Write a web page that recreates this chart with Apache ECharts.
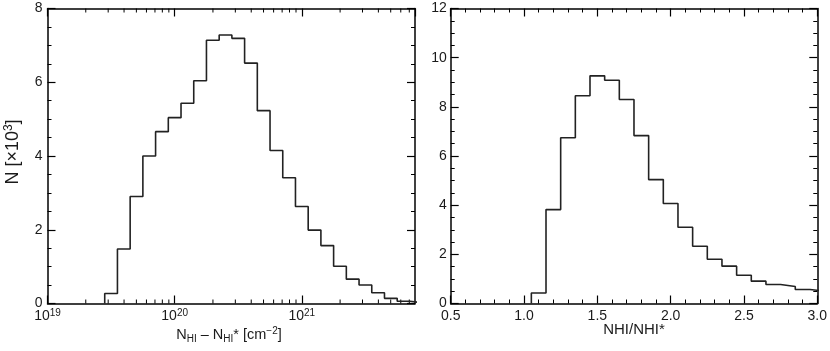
<!DOCTYPE html>
<html>
<head>
<meta charset="utf-8">
<script src="https://cdn.jsdelivr.net/npm/echarts@6/dist/echarts.min.js"></script>
<style>
html,body{margin:0;padding:0;background:#fff;}
#chart{width:830px;height:351px;}
</style>
</head>
<body>
<div id="chart"></div>
<script>
// ---- Left panel: histogram of N_HI - N_HI* (log10 bin edges, counts in 10^3) ----
const leftEdgesLog10 = [19.45,19.55,19.65,19.75,19.85,19.95,20.05,20.15,20.25,20.35,20.45,20.55,20.65,20.75,20.85,20.95,21.05,21.15,21.25,21.35,21.45,21.55,21.65,21.75,21.85,21.95];
const leftCounts = [0.27,1.48,2.90,4.00,4.66,5.04,5.43,6.04,7.14,7.28,7.19,6.52,5.23,4.15,3.41,2.63,1.99,1.57,1.01,0.66,0.50,0.29,0.14,0.06,0.02];
const leftXMinLog10 = 19;
const leftXMaxLog10 = 21.89;
const leftYTicks = [0,2,4,6,8];

// ---- Right panel: histogram of NHI/NHI* ----
const rightEdges = [1.05,1.15,1.25,1.35,1.45,1.55,1.65,1.75,1.85,1.95,2.05,2.15,2.25,2.35,2.45,2.55,2.65,2.75,2.85,2.95,3.05];
const rightCounts = [0.43,3.82,6.74,8.45,9.26,9.08,8.30,6.83,5.04,4.07,3.10,2.33,1.80,1.52,1.15,0.91,0.77,0.69,0.57,0.50];
const rightXTicks = [0.5,1.0,1.5,2.0,2.5,3.0];
const rightYTicks = [0,2,4,6,8,10,12];

const FONT = '"Liberation Sans", Arial, Helvetica, sans-serif';
const INK = '#000';
const TXT = '#1a1a1a';

function stepPoints(edges, counts, xf) {
  const pts = [[xf(edges[0]), 0]];
  for (let i = 0; i < counts.length; i++) {
    pts.push([xf(edges[i]), counts[i]]);
    pts.push([xf(edges[i + 1]), counts[i]]);
  }
  return pts;
}
const pow10 = e => Math.pow(10, e);

// minor tick positions for the log axis (2..9 x each decade)
const leftMinorTicks = [];
for (let d = leftXMinLog10; d < leftXMaxLog10; d++) {
  for (let m = 2; m <= 9; m++) {
    const v = m * Math.pow(10, d);
    if (Math.log10(v) <= leftXMaxLog10) leftMinorTicks.push(v);
  }
}

const chart = echarts.init(document.getElementById('chart'), null, {renderer: 'canvas'});

const axisLine = {show: true, onZero: false, lineStyle: {color: INK, width: 1.5}};
const majorTick = {show: true, inside: true, length: 8, lineStyle: {color: INK, width: 1.2}};
const minorTick = n => ({show: true, splitNumber: n, length: 4, lineStyle: {color: INK, width: 1}});
const LBL_SIZE = 14;
const lbl = {color: TXT, fontSize: LBL_SIZE, fontFamily: FONT};

const grids = [
  {left: 47.5, top: 8.5, width: 367.5, height: 295},
  {left: 450.7, top: 8.5, width: 368.6, height: 295}
];

const supRich = {
  b: {fontSize: LBL_SIZE, lineHeight: 16, fontFamily: FONT, color: TXT},
  s: {fontSize: 10, lineHeight: 10, verticalAlign: 'top', fontFamily: FONT, color: TXT}
};

const option = {
  animation: false,
  backgroundColor: '#fff',
  grid: grids,
  xAxis: [
    {
      type: 'log', gridIndex: 0, logBase: 10,
      min: pow10(leftXMinLog10), max: pow10(leftXMaxLog10),
      axisLine, axisTick: majorTick, splitLine: {show: false},
      axisLabel: {
        margin: 5, showMaxLabel: false, fontSize: LBL_SIZE, fontFamily: FONT, color: TXT,
        formatter: v => '{b|10}{s|' + Math.round(Math.log10(v)) + '}',
        rich: supRich
      }
    },
    {
      type: 'log', gridIndex: 0, logBase: 10, position: 'top',
      min: pow10(leftXMinLog10), max: pow10(leftXMaxLog10),
      axisLine, axisTick: majorTick, axisLabel: {show: false}, splitLine: {show: false}
    },
    {
      type: 'value', gridIndex: 1,
      min: rightXTicks[0], max: rightXTicks[rightXTicks.length - 1], interval: 0.5,
      axisLine, axisTick: majorTick, minorTick: minorTick(5), splitLine: {show: false}, minorSplitLine: {show: false},
      axisLabel: Object.assign({margin: 6, formatter: v => v.toFixed(1), showMaxLabel: true, showMinLabel: true}, lbl)
    },
    {
      type: 'value', gridIndex: 1, position: 'top',
      min: rightXTicks[0], max: rightXTicks[rightXTicks.length - 1], interval: 0.5,
      axisLine, axisTick: majorTick, minorTick: minorTick(5), splitLine: {show: false},
      axisLabel: {show: false}
    }
  ],
  yAxis: [
    {
      type: 'value', gridIndex: 0, min: leftYTicks[0], max: leftYTicks[leftYTicks.length - 1], interval: 2,
      axisLine, axisTick: majorTick, minorTick: minorTick(4), splitLine: {show: false},
      axisLabel: Object.assign({margin: 5}, lbl)
    },
    {
      type: 'value', gridIndex: 0, position: 'right', min: leftYTicks[0], max: leftYTicks[leftYTicks.length - 1], interval: 2,
      axisLine, axisTick: majorTick, minorTick: minorTick(4), splitLine: {show: false},
      axisLabel: {show: false}
    },
    {
      type: 'value', gridIndex: 1, min: rightYTicks[0], max: rightYTicks[rightYTicks.length - 1], interval: 2,
      axisLine, axisTick: majorTick, minorTick: minorTick(4), splitLine: {show: false},
      axisLabel: Object.assign({margin: 4}, lbl)
    },
    {
      type: 'value', gridIndex: 1, position: 'right', min: rightYTicks[0], max: rightYTicks[rightYTicks.length - 1], interval: 2,
      axisLine, axisTick: majorTick, minorTick: minorTick(4), splitLine: {show: false},
      axisLabel: {show: false}
    }
  ],
  series: [
    {
      type: 'line', xAxisIndex: 0, yAxisIndex: 0,
      data: stepPoints(leftEdgesLog10, leftCounts, pow10),
      showSymbol: false, symbol: 'none', clip: true,
      lineStyle: {color: '#222', width: 1.6}, z: 5
    },
    {
      type: 'line', xAxisIndex: 2, yAxisIndex: 2,
      data: stepPoints(rightEdges, rightCounts, x => x),
      showSymbol: false, symbol: 'none', clip: true,
      lineStyle: {color: '#222', width: 1.6}, z: 5
    },
    {
      type: 'custom', xAxisIndex: 0, yAxisIndex: 0, clip: false, silent: true,
      data: leftMinorTicks.map(v => [v, 0]),
      renderItem: (params, api) => {
        const x = api.value(0);
        const pb = api.coord([x, leftYTicks[0]]);
        const pt = api.coord([x, leftYTicks[leftYTicks.length - 1]]);
        return {
          type: 'group',
          children: [
            {type: 'line', shape: {x1: pb[0], y1: pb[1], x2: pb[0], y2: pb[1] - 4}, style: {stroke: INK, lineWidth: 1}},
            {type: 'line', shape: {x1: pt[0], y1: pt[1], x2: pt[0], y2: pt[1] + 4}, style: {stroke: INK, lineWidth: 1}}
          ]
        };
      }
    }
  ],
  graphic: [
    {
      type: 'text', x: 13.5, y: 152, rotation: Math.PI / 2,
      style: {
        text: '{n|N [×10}{p|3}{n|]}',
        align: 'center', verticalAlign: 'middle',
        rich: {
          n: {fontSize: 18, lineHeight: 21, fontFamily: FONT, fill: TXT},
          p: {fontSize: 12, lineHeight: 12, verticalAlign: 'top', fontFamily: FONT, fill: TXT}
        }
      }
    },
    {
      type: 'text', x: 229, y: 335,
      style: {
        text: '{n|N}{d|HI}{n| – N}{d|HI}{n|* [cm}{u|−2}{n|]}',
        align: 'center', verticalAlign: 'middle',
        rich: {
          n: {fontSize: 14.5, lineHeight: 18, fontFamily: FONT, fill: TXT},
          d: {fontSize: 10, lineHeight: 10, verticalAlign: 'bottom', fontFamily: FONT, fill: TXT},
          u: {fontSize: 10, lineHeight: 10, verticalAlign: 'top', fontFamily: FONT, fill: TXT}
        }
      }
    },
    {
      type: 'text', x: 634, y: 330,
      style: {
        text: 'NHI/NHI*', align: 'center', verticalAlign: 'middle',
        fontSize: 15, fontFamily: FONT, fill: TXT
      }
    }
  ]
};
chart.setOption(option);
</script>
</body>
</html>
